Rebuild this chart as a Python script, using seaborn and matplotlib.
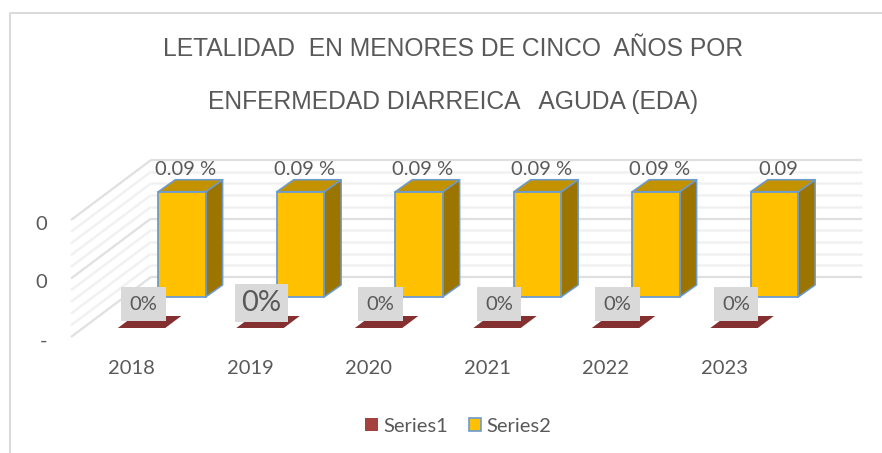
import numpy as np
import pandas as pd
import matplotlib
matplotlib.use("Agg")
import matplotlib.pyplot as plt
from matplotlib.lines import Line2D
from matplotlib.patches import Polygon, Patch
from matplotlib.transforms import ScaledTranslation
import seaborn as sns

# === Data ===
years = ["2018", "2019", "2020", "2021", "2022", "2023"]
series1 = [0, 0, 0, 0, 0, 0]
series2 = [0.09, 0.09, 0.09, 0.09, 0.09, 0.09]
series2_labels = ["0.09 %", "0.09 %", "0.09 %", "0.09 %", "0.09 %", "0.09"]
series1_labels = ["0%", "0%", "0%", "0%", "0%", "0%"]
y_ticks = [0, 0.05, 0.1]
y_tick_labels = ["-", "0", "0"]
title_lines = ["LETALIDAD  EN MENORES DE CINCO  AÑOS POR", "ENFERMEDAD DIARREICA   AGUDA (EDA)"]

# === Figure size in px ===
W, H = 882, 453
TEXT = "#595959"

df = pd.DataFrame({
    "year": years * 2,
    "value": series1 + series2,
    "series": ["Series1"] * 6 + ["Series2"] * 6,
})

sns.set_theme(style="white")
plt.rcParams["font.family"] = ["Lato", "DejaVu Sans"]

fig = plt.figure(figsize=(W / 100, H / 100), dpi=100)
# front plane of the fake 3D box: x 71-782 px, y 220-337 px
ax = fig.add_axes([71 / W, 1 - 337 / H, 711 / W, 117 / H])

sns.barplot(data=df, x="year", y="value", hue="series",
            palette={"Series1": "#843030", "Series2": "#ffc000"},
            width=0.8, gap=0, saturation=1, legend=False, ax=ax, zorder=3)
ax.set_xlim(-0.5, 5.5)
ax.set_ylim(0, 0.1)

# px to data units
px_x = 1 / 118.5
px_y = 0.1 / 117


def shade(pts, color, z=3, edge="none"):
    ax.add_patch(Polygon(pts, closed=True, facecolor=color, edgecolor=edge,
                         linewidth=1.1, clip_on=False, zorder=z, joinstyle="round"))


# === Walls ===
dx_wall, dy_wall = 80 * px_x, 60 * px_y
for v in np.arange(0, 0.101, 0.01):
    major = int(round(v * 100)) % 5 == 0
    col = "#e0e0e0" if major else "#f1f1f1"
    lw = 1.6 if major else 1.8
    ax.plot([-0.5 + dx_wall, 5.5 + dx_wall], [v + dy_wall, v + dy_wall], color=col, lw=lw,
            clip_on=False, zorder=1, solid_capstyle="butt")
    ax.plot([-0.5, -0.5 + dx_wall], [v, v + dy_wall], color=col, lw=lw,
            clip_on=False, zorder=1, solid_capstyle="butt")

# === Series 2 boxes, moved back into the depth of the chart ===
for bar, lab in zip(ax.containers[1], series2_labels):
    bar.set_x(bar.get_x() + 28 * px_x)
    bar.set_y(40 * px_y)
    bar.set_edgecolor("#6b9bd1")
    bar.set_linewidth(1.3)
    bar.set_clip_on(False)
    x0, x1 = bar.get_x(), bar.get_x() + bar.get_width()
    y0, y1 = bar.get_y(), bar.get_y() + bar.get_height()
    ddx, ddy = 17 * px_x, 12 * px_y
    shade([(x1, y0), (x1 + ddx, y0 + ddy), (x1 + ddx, y1 + ddy), (x1, y1)], "#9c7500", 2.9, "#6b9bd1")
    shade([(x0, y1), (x1, y1), (x1 + ddx, y1 + ddy), (x0 + ddx, y1 + ddy)], "#c29200", 2.9, "#6b9bd1")
    ax.text((x0 + x1) / 2 + 4 * px_x, y1 + 22 * px_y, lab, ha="center", va="center",
            fontsize=14.5, color=TEXT, zorder=5, clip_on=False)

# === Series 1 flat plates, with grey label boxes ===
for i, (bar, lab) in enumerate(zip(ax.containers[0], series1_labels)):
    x0 = bar.get_x() + 35 * px_x
    w = bar.get_width()
    y0 = 9 * px_y
    bar.set_visible(False)
    shade([(x0, y0), (x0 + w, y0), (x0 + w + 16 * px_x, y0 + 12 * px_y), (x0 + 16 * px_x, y0 + 12 * px_y)], "#843030")
    big = i == 1
    ax.text(x0 + w / 2 + (2 if not big else 1) * px_x, y0 + (24 if not big else 25) * px_y, lab,
            ha="center", va="center", fontsize=21 if big else 14.5, color=TEXT, zorder=6, clip_on=False,
            bbox=dict(boxstyle="square,pad=0.42" if not big else "square,pad=0.22",
                      facecolor="#d9d9d9", edgecolor="none"))

# === Axes ===
ax.set_xlabel("")
ax.set_ylabel("")
ax.set_yticks(y_ticks)
ax.set_yticklabels(y_tick_labels)
ax.tick_params(axis="y", length=0, pad=17, labelsize=14.5, labelcolor=TEXT)
ax.tick_params(axis="x", length=0, pad=16, labelsize=14.5, labelcolor=TEXT)
for t in ax.get_yticklabels():
    t.set_transform(t.get_transform() + ScaledTranslation(0, -3 / 100, fig.dpi_scale_trans))
for t in ax.get_xticklabels():
    t.set_transform(t.get_transform() + ScaledTranslation(1.5 / 100, -1 / 100, fig.dpi_scale_trans))
sns.despine(ax=ax, left=True, bottom=True)
ax.patch.set_alpha(0)

# === Title ===
fig.text(453.5 / W, 1 - 49.5 / H, title_lines[0], ha="center", va="center",
         fontsize=17.7, color=TEXT, family="Liberation Sans")
fig.text(453.5 / W, 1 - 102 / H, title_lines[1], ha="center", va="center",
         fontsize=17.7, color=TEXT, family="Liberation Sans")

# === Legend ===
handles = [Patch(facecolor="#a5423f", edgecolor="none", label="Series1"),
           Patch(facecolor="#ffc000", edgecolor="#6b9bd1", linewidth=1.2, label="Series2")]
fig.legend(handles=handles, loc="center", bbox_to_anchor=(458.5 / W, 1 - 426 / H), ncol=2, frameon=False,
           fontsize=14.5, labelcolor=TEXT, handlelength=0.6, handleheight=0.65,
           handletextpad=0.3, columnspacing=1.0)

# === Chart frame ===
fig.add_artist(Line2D([9.5 / W, 9.5 / W, 1], [0, 1 - 12.5 / H, 1 - 12.5 / H], color="#d9d9d9", lw=1.4))

fig.savefig("out.png", dpi=100)
